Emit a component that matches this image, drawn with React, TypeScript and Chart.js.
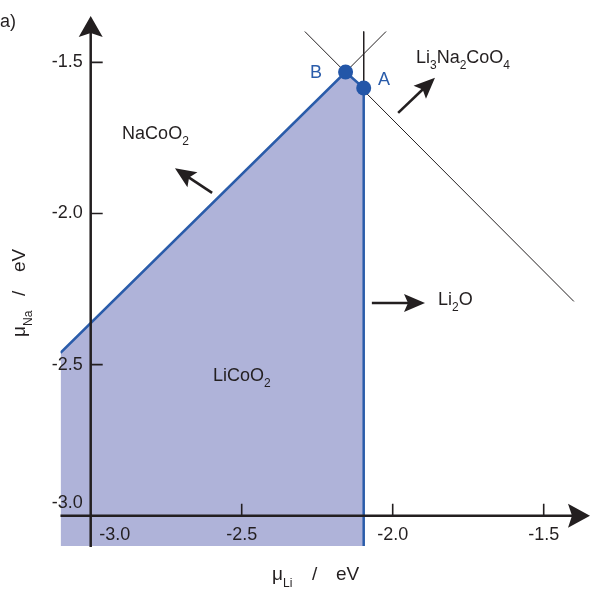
import React, { useEffect, useRef } from "react";
import { Chart, registerables } from "chart.js";

Chart.register(...registerables);

// ---- data (chemical potentials, eV) ----
const xTicks = [-3.0, -2.5, -2.0, -1.5];
const yTicks = [-3.0, -2.5, -2.0, -1.5];
const tickLabels = ["-3.0", "-2.5", "-2.0", "-1.5"];
const pointB = { x: -2.156, y: -1.532 };
const pointA = { x: -2.096, y: -1.585 };
const stableRegion = [
  { x: -3.1, y: -2.461 },
  pointB,
  pointA,
  { x: -2.096, y: -3.1 },
];
const li3na2Line = [
  { x: -2.291, y: -1.398 },
  { x: -1.4, y: -2.291 },
];
const naCoO2Ext = [pointB, { x: -2.022, y: -1.398 }];
const li2OLine = [{ x: -2.096, y: -1.398 }, pointA];
const axisCross = { x: -3.0, y: -3.0 };
const xRange = [-3.1, -1.35];
const yRange = [-3.1, -1.35];

// phase labels: [text, isSubscript][]
const phaseLabels = [
  { parts: [["NaCoO", false], ["2", true]], at: { x: -2.896, y: -1.753 } },
  { parts: [["Li", false], ["3", true], ["Na", false], ["2", true], ["CoO", false], ["4", true]], at: { x: -1.923, y: -1.501 } },
  { parts: [["Li", false], ["2", true], ["O", false]], at: { x: -1.85, y: -2.302 } },
  { parts: [["LiCoO", false], ["2", true]], at: { x: -2.595, y: -2.554 } },
];
const phaseArrows = [
  { from: { x: -2.598, y: -1.932 }, to: { x: -2.721, y: -1.85 } },
  { from: { x: -1.982, y: -1.667 }, to: { x: -1.86, y: -1.551 } },
  { from: { x: -2.069, y: -2.296 }, to: { x: -1.893, y: -2.296 } },
];
const pointLabels = [
  { text: "B", at: { x: -2.254, y: -1.534 } },
  { text: "A", at: { x: -2.029, y: -1.557 } },
];

const FONT = "'Liberation Sans', Arial, sans-serif";
const INK = "#231F20";
const BLUE = "#2A5CAA";

function drawRich(ctx: CanvasRenderingContext2D, parts: any[], x: number, y: number, size: number, subSize: number, subDy: number) {
  let cx = x;
  ctx.textAlign = "left";
  ctx.textBaseline = "alphabetic";
  for (const [t, sub] of parts) {
    ctx.font = `${sub ? subSize : size}px ${FONT}`;
    ctx.fillText(t, cx, sub ? y + subDy : y);
    cx += ctx.measureText(t).width;
  }
}

function arrowHead(ctx: CanvasRenderingContext2D, tx: number, ty: number, ang: number, len: number, half: number, notch: number) {
  ctx.save();
  ctx.translate(tx, ty);
  ctx.rotate(ang);
  ctx.beginPath();
  ctx.moveTo(0, 0);
  ctx.lineTo(-len, -half);
  ctx.lineTo(-len + notch, 0);
  ctx.lineTo(-len, half);
  ctx.closePath();
  ctx.fill();
  ctx.restore();
}

const decorPlugin = {
  id: "decor",
  afterDatasetsDraw(chart: any) {
    const ctx: CanvasRenderingContext2D = chart.ctx;
    const xs = chart.scales.x;
    const ys = chart.scales.y;
    const px = (v: number) => xs.getPixelForValue(v);
    const py = (v: number) => ys.getPixelForValue(v);
    const ox = px(axisCross.x);
    const oy = py(axisCross.y);
    const area = chart.chartArea;
    ctx.save();
    ctx.strokeStyle = INK;
    ctx.fillStyle = INK;
    // axes
    ctx.lineWidth = 2.5;
    ctx.beginPath();
    ctx.moveTo(ox, area.bottom + 1);
    ctx.lineTo(ox, area.top + 10);
    ctx.moveTo(area.left, oy);
    ctx.lineTo(area.right - 10, oy);
    ctx.stroke();
    arrowHead(ctx, ox, area.top - 1, -Math.PI / 2, 21, 12, 4);
    arrowHead(ctx, area.right + 1, oy, 0, 22, 12, 4);
    // ticks
    ctx.lineWidth = 1.6;
    ctx.beginPath();
    for (const v of yTicks) {
      if (v === axisCross.y) continue;
      ctx.moveTo(ox, py(v));
      ctx.lineTo(ox + 12, py(v));
    }
    for (const v of xTicks) {
      if (v === axisCross.x) continue;
      ctx.moveTo(px(v), oy);
      ctx.lineTo(px(v), oy - 12);
    }
    ctx.stroke();
    // tick labels
    ctx.font = `18px ${FONT}`;
    ctx.textBaseline = "middle";
    ctx.textAlign = "right";
    yTicks.forEach((v, i) => {
      const yy = v === axisCross.y ? py(v) - 13 : py(v);
      ctx.fillText(tickLabels[i], ox - 8, yy);
    });
    ctx.textAlign = "center";
    xTicks.forEach((v, i) => {
      const xx = v === axisCross.x ? px(v) + 24 : px(v);
      ctx.fillText(tickLabels[i], xx, oy + 19);
    });
    // axis titles
    ctx.textBaseline = "alphabetic";
    ctx.textAlign = "left";
    ctx.font = `19px ${FONT}`;
    ctx.fillText("\u03bc", 272, 580);
    ctx.fillText("/", 312, 580);
    ctx.fillText("eV", 336, 580);
    ctx.font = `12px ${FONT}`;
    ctx.fillText("Li", 283, 587);
    ctx.save();
    ctx.translate(25, 0);
    ctx.rotate(-Math.PI / 2);
    ctx.font = `19px ${FONT}`;
    ctx.fillText("\u03bc", -337, 0);
    ctx.fillText("/", -296, 0);
    ctx.fillText("eV", -272, 0);
    ctx.font = `12px ${FONT}`;
    ctx.fillText("Na", -326, 7);
    ctx.restore();
    // panel label
    ctx.font = `18px ${FONT}`;
    ctx.fillText("a)", 0, 27);
    // phase labels
    for (const l of phaseLabels) {
      drawRich(ctx, l.parts, px(l.at.x), py(l.at.y), 18, 12, 6);
    }
    // arrows
    ctx.lineWidth = 2.6;
    for (const a of phaseArrows) {
      const x1 = px(a.from.x), y1 = py(a.from.y), x2 = px(a.to.x), y2 = py(a.to.y);
      const ang = Math.atan2(y2 - y1, x2 - x1);
      ctx.beginPath();
      ctx.moveTo(x1, y1);
      ctx.lineTo(x2 - Math.cos(ang) * 12, y2 - Math.sin(ang) * 12);
      ctx.stroke();
      arrowHead(ctx, x2, y2, ang, 21, 9, 4);
    }
    // point labels
    ctx.fillStyle = BLUE;
    ctx.font = `18px ${FONT}`;
    ctx.textAlign = "center";
    ctx.textBaseline = "middle";
    for (const l of pointLabels) ctx.fillText(l.text, px(l.at.x), py(l.at.y));
    ctx.restore();
  },
};

export default function App() {
  const ref = useRef<HTMLCanvasElement | null>(null);
  useEffect(() => {
    if (!ref.current) return;
    document.body.style.overflow = "hidden";
    const thin = { showLine: true, borderColor: INK, borderWidth: 1, pointRadius: 0, fill: false };
    const chart = new Chart(ref.current, {
      type: "scatter",
      data: {
        datasets: [
          { data: [pointB, pointA], pointRadius: 7.5, pointBackgroundColor: "#2356A8", pointBorderWidth: 0, showLine: false, order: 0 } as any,
          { data: li3na2Line, ...thin, order: 3 } as any,
          { data: naCoO2Ext, ...thin, order: 3 } as any,
          { data: li2OLine, ...thin, order: 3 } as any,
          {
            data: stableRegion,
            showLine: true,
            fill: "start",
            backgroundColor: "#AFB3D9",
            borderColor: BLUE,
            borderWidth: 2.5,
            pointRadius: 0,
            order: 1,
          } as any,
        ],
      },
      options: {
        animation: false,
        responsive: false,
        devicePixelRatio: 1,
        layout: { autoPadding: false, padding: { left: 60.5, right: 1, top: 17, bottom: 45 } },
        plugins: { legend: { display: false }, tooltip: { enabled: false } },
        scales: {
          x: { type: "linear", min: xRange[0], max: xRange[1], display: false },
          y: { type: "linear", min: yRange[0], max: yRange[1], display: false },
        },
      },
      plugins: [decorPlugin],
    });
    return () => chart.destroy();
  }, []);
  return (
    <div style={{ position: "absolute", left: 0, top: 0, width: 590, height: 591 }}>
      <canvas ref={ref} width={590} height={591} style={{ display: "block", width: 590, height: 591 }} />
    </div>
  );
}
